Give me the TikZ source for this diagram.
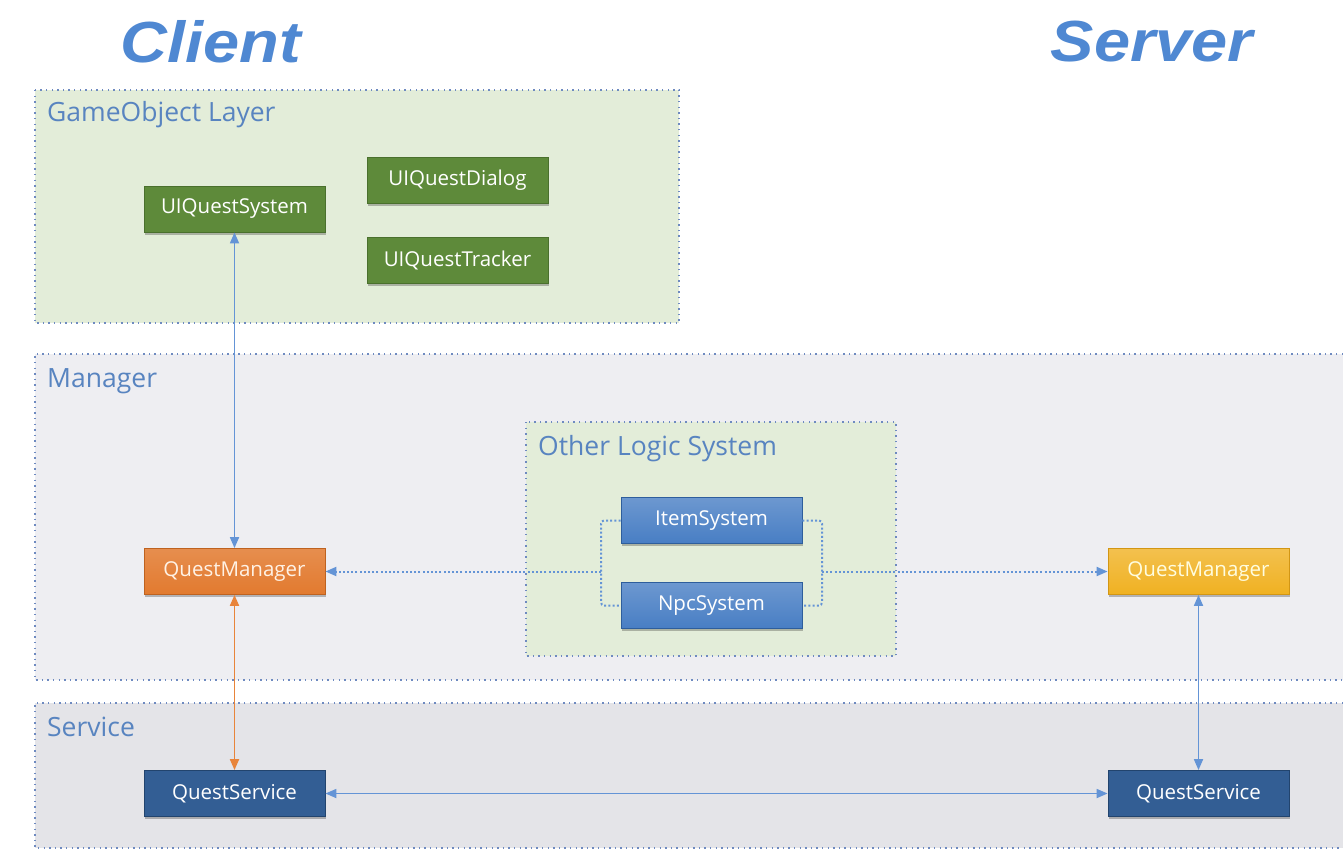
\documentclass[tikz,border=0pt]{standalone}
\usepackage{fontspec}
\setmainfont{Open Sans}
\newfontfamily\titlefont{Liberation Sans}
\usetikzlibrary{arrows.meta,shadows}
\definecolor{titleblue}{RGB}{79,136,210}
\definecolor{labelblue}{RGB}{88,132,192}
\definecolor{dotblue}{RGB}{110,138,192}
\definecolor{greenarea}{RGB}{227,237,217}
\definecolor{mgrarea}{RGB}{238,238,242}
\definecolor{svcarea}{RGB}{228,228,232}
\definecolor{gfill}{RGB}{94,138,58}
\definecolor{gline}{RGB}{74,112,45}
\definecolor{ofill}{RGB}{226,122,47}
\definecolor{oline}{RGB}{190,98,32}
\definecolor{yfill}{RGB}{240,177,34}
\definecolor{yline}{RGB}{210,150,20}
\definecolor{bfill}{RGB}{72,126,196}
\definecolor{bline}{RGB}{46,94,156}
\definecolor{dfill}{RGB}{51,94,148}
\definecolor{dline}{RGB}{34,68,110}
\definecolor{arrblue}{RGB}{100,148,214}
\definecolor{arrorange}{RGB}{232,132,58}
\tikzset{
  area/.style={draw=dotblue, line width=1.4pt, dash pattern=on 1.4pt off 4.2pt},
  arealabel/.style={anchor=west, text=labelblue, font=\fontsize{26.5}{30}\selectfont, inner sep=0pt},
  box/.style={minimum width=181pt, minimum height=46pt, inner sep=0pt, line width=0.8pt,
    font=\fontsize{20.5}{23}\selectfont, text=white,
    drop shadow={shadow xshift=1pt, shadow yshift=-2.5pt, opacity=0.25, fill=black}},
  gbox/.style={box, draw=gline, fill=gfill},
  obox/.style={box, draw=oline, top color=ofill!85!white, bottom color=ofill, text=orange!10!white},
  ybox/.style={box, draw=yline, top color=yfill!80!white, bottom color=yfill, text=yellow!12!white},
  bbox/.style={box, draw=bline, top color=bfill!80!white, bottom color=bfill},
  dbox/.style={box, draw=dline, fill=dfill},
  title/.style={text=titleblue, font=\titlefont\fontsize{58}{60}\selectfont\bfseries\itshape},
  tip/.style={-{Triangle[length=11pt,width=9pt]}},
  twotip/.style={{Triangle[length=11pt,width=9pt]}-{Triangle[length=11pt,width=9pt]}},
  blink/.style={draw=arrblue, line width=1.7pt},
  olink/.style={draw=arrorange, line width=1.9pt},
  dlink/.style={draw=arrblue, line width=2pt, dash pattern=on 2pt off 2.2pt},
}
\begin{document}
\begin{tikzpicture}[x=1pt,y=-1pt]
\useasboundingbox[fill=white] (0,0) rectangle (1343,862);
% titles
\node[title] (client) at (211,42) {\scalebox{1.12}[1]{Client}};
\node[title] (server) at (1152,42) {\scalebox{1.12}[1]{Server}};
% areas
\fill[greenarea] (35,90) rectangle (679,323);
\draw[area] (35,90) rectangle (679,323);
\fill[mgrarea] (35,354) rectangle (1343,680);
\draw[area] (1343,354) -- (35,354) -- (35,680) -- (1343,680);
\fill[svcarea] (35,703) rectangle (1343,848);
\draw[area] (1343,703) -- (35,703) -- (35,848) -- (1343,848);
\fill[greenarea] (526,422) rectangle (896,656);
\draw[area] (526,422) rectangle (896,656);
% area labels
\node[arealabel] (lgo) at (47,115) {GameObject Layer};
\node[arealabel] (lmgr) at (47,381) {Manager};
\node[arealabel] (lols) at (538,449) {Other Logic System};
\node[arealabel] (lsvc) at (47,727) {Service};
% boxes
\node[gbox] (uqs) at (234.5,209) {UIQuestSystem};
\node[gbox] (uqd) at (457.5,180.5) {UIQuestDialog};
\node[gbox] (uqt) at (457.5,260.5) {UIQuestTracker};
\node[bbox] (item) at (711.5,520.5) {ItemSystem};
\node[bbox] (npc) at (711.5,605.5) {NpcSystem};
\node[obox] (qmL) at (234.5,571.5) {QuestManager};
\node[ybox] (qmR) at (1198.5,571.5) {QuestManager};
\node[dbox] (qsL) at (234.5,793.5) {QuestService};
\node[dbox] (qsR) at (1198.5,793.5) {QuestService};
% connectors
\draw[blink, twotip] (uqs) -- (qmL);
\draw[olink, twotip] (qmL) -- (qsL);
\draw[blink, twotip] (qmR) -- (qsR);
\draw[blink, twotip] (qsL) -- (qsR);
\coordinate (cl) at (601,571.5);
\coordinate (cr) at (822,571.5);
\draw[dlink, rounded corners=3pt] (item.west) -| (cl) |- (npc.west);
\draw[dlink, rounded corners=3pt] (item.east) -| (cr) |- (npc.east);
\draw[dlink, tip] (cl) -- (qmL.east);
\draw[dlink, tip] (cr) -- (qmR.west);
\end{tikzpicture}
\end{document}
